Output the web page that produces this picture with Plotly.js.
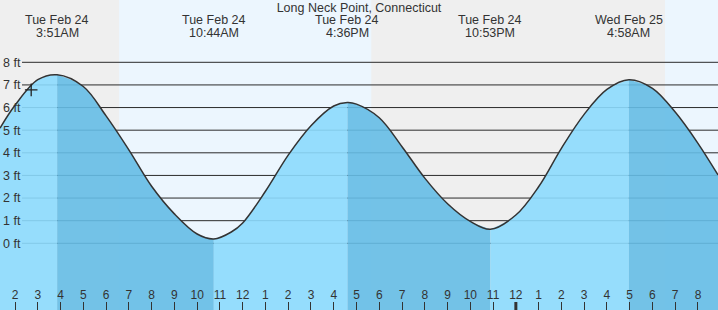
<!DOCTYPE html>
<html>
<head>
<meta charset="utf-8">
<script src="https://cdn.plot.ly/plotly-3.0.1.min.js"></script>
<style>
  html, body { margin: 0; padding: 0; background: #efefef; }
  #chart { width: 718px; height: 310px; }
</style>
</head>
<body>
<div id="chart"></div>
<script>
// Tide curve (hours since midnight Tue Feb 24, feet)
const tideHours = [1.34, 2, 3, 3.85, 5, 6, 7, 8, 9, 10, 10.733, 11.5, 12, 13, 14, 15, 16, 16.6, 17, 18, 19,
  20, 21, 22, 22.883, 24, 25, 26, 27, 28, 28.967, 30, 31, 32, 32.88];
const tideFeet = [5.09, 6.1, 7.23, 7.45, 6.93, 5.63, 4.13, 2.52, 1.3, 0.41, 0.19, 0.5, 0.9, 2.3, 3.9, 5.2, 6.07, 6.22, 6.15, 5.55, 4.27,
  2.88, 1.75, 0.97, 0.62, 1.25, 2.5, 4.2, 5.7, 6.8, 7.23, 6.85, 5.8, 4.42, 3.02];

const extremeHours = [3.85, 10.733, 16.6, 22.883, 28.967];
const extremeDates = ['Tue Feb 24', 'Tue Feb 24', 'Tue Feb 24', 'Tue Feb 24', 'Wed Feb 25'];
const extremeTimes = ['3:51AM', '10:44AM', '4:36PM', '10:53PM', '4:58AM'];

const dayStartHours = [6.57, 30.55];
const dayEndHours = [17.65, 33.5];

const heightTicks = [0, 1, 2, 3, 4, 5, 6, 7, 8];
const heightTickLabels = ['0 ft', '1 ft', '2 ft', '3 ft', '4 ft', '5 ft', '6 ft', '7 ft', '8 ft'];

const hourTicks = [2, 3, 4, 5, 6, 7, 8, 9, 10, 11, 12, 13, 14, 15, 16, 17, 18, 19, 20, 21, 22, 23, 24,
  25, 26, 27, 28, 29, 30, 31, 32];
const hourTickLabels = ['2', '3', '4', '5', '6', '7', '8', '9', '10', '11', '12', '1', '2', '3', '4', '5',
  '6', '7', '8', '9', '10', '11', '12', '1', '2', '3', '4', '5', '6', '7', '8'];
const midnightHour = 24;

const nowHour = 2.71;
const nowFeet = 6.78;

const titleText = 'Long Neck Point, Connecticut';

// ---- build ----
const X_RANGE = [1.34, 32.88];
const Y_RANGE = [-2.948, 10.754];
const BASE = -4;
const LIGHT = 'rgba(140,218,253,0.9)';
const DARK = 'rgba(101,188,229,0.9)';
const TXT = '#333';
const FONT = '"Liberation Sans", Arial, sans-serif';

const traces = [];
const bounds = [tideHours[0]].concat(extremeHours, [tideHours[tideHours.length - 1]]);
for (let s = 0; s < bounds.length - 1; s++) {
  const a = bounds[s], b = bounds[s + 1];
  const xs = [], ys = [];
  tideHours.forEach((t, i) => { if (t >= a - 1e-9 && t <= b + 1e-9) { xs.push(t); ys.push(tideFeet[i]); } });
  const falling = ys[0] > ys[ys.length - 1];
  traces.push({ x: [a, b], y: [BASE, BASE], mode: 'lines', line: { width: 0 }, hoverinfo: 'skip', showlegend: false });
  traces.push({ x: xs, y: ys, mode: 'lines', line: { width: 0, shape: 'spline', smoothing: 1 },
    fill: 'tonexty', fillcolor: falling ? DARK : LIGHT, hoverinfo: 'skip', showlegend: false });
}
traces.push({ x: tideHours, y: tideFeet, mode: 'lines', line: { color: '#333', width: 1.5, shape: 'spline', smoothing: 1 },
  hoverinfo: 'skip', showlegend: false });
traces.push({ x: [nowHour], y: [nowFeet], mode: 'markers',
  marker: { symbol: 'cross-thin', size: 9, color: '#222', line: { color: '#222', width: 1.3 } },
  hoverinfo: 'skip', showlegend: false });

const shapes = [];
dayStartHours.forEach((d, i) => {
  shapes.push({ type: 'rect', layer: 'below', xref: 'x', yref: 'paper', x0: d, x1: dayEndHours[i], y0: 0, y1: 1,
    fillcolor: '#ecf6fe', line: { width: 0 } });
});
heightTicks.forEach(v => {
  shapes.push({ type: 'line', layer: 'below', xref: 'paper', yref: 'y', x0: 22 / 718, x1: 1, y0: v, y1: v,
    line: { color: '#2b2b2b', width: 1 } });
});
shapes.push({ type: 'line', layer: 'above', xref: 'x', yref: 'paper', x0: midnightHour, x1: midnightHour,
  y0: 0, y1: 8 / 310, line: { color: '#333', width: 3 } });

const annotations = [];
extremeHours.forEach((h, i) => {
  annotations.push({ x: h, xref: 'x', y: 1 - 20.3 / 310, yref: 'paper', yanchor: 'middle', xanchor: 'center',
    text: extremeDates[i], showarrow: false, font: { family: FONT, size: 12.5, color: TXT } });
  annotations.push({ x: h, xref: 'x', y: 1 - 32.6 / 310, yref: 'paper', yanchor: 'middle', xanchor: 'center',
    text: extremeTimes[i], showarrow: false, font: { family: FONT, size: 12.5, color: TXT } });
});

const layout = {
  width: 718, height: 310,
  margin: { l: 0, r: 0, t: 0, b: 0, pad: 0 },
  paper_bgcolor: '#efefef', plot_bgcolor: '#efefef',
  font: { family: FONT, size: 12.5, color: TXT },
  title: { text: titleText, font: { family: FONT, size: 12.5, color: TXT },
    x: 0.5, xanchor: 'center', xref: 'paper', y: 1 - 7.8 / 310, yanchor: 'middle', yref: 'container' },
  xaxis: { range: X_RANGE, tickmode: 'array', tickvals: hourTicks, ticktext: hourTickLabels,
    ticks: 'inside', ticklen: 8, tickwidth: 1, tickcolor: '#333', ticklabelposition: 'inside',
    ticklabeloverflow: 'allow',
    tickfont: { family: FONT, size: 12, color: TXT },
    showgrid: false, zeroline: false, showline: false, fixedrange: true },
  yaxis: { range: Y_RANGE, tickmode: 'array', tickvals: heightTicks, ticktext: heightTickLabels,
    ticks: '', ticklabelposition: 'inside', ticklabeloverflow: 'allow',
    tickfont: { family: FONT, size: 12.5, color: TXT },
    showgrid: false, zeroline: false, showline: false, fixedrange: true },
  shapes: shapes,
  annotations: annotations,
  showlegend: false
};

Plotly.newPlot('chart', traces, layout, { displayModeBar: false, staticPlot: true });
</script>
</body>
</html>
